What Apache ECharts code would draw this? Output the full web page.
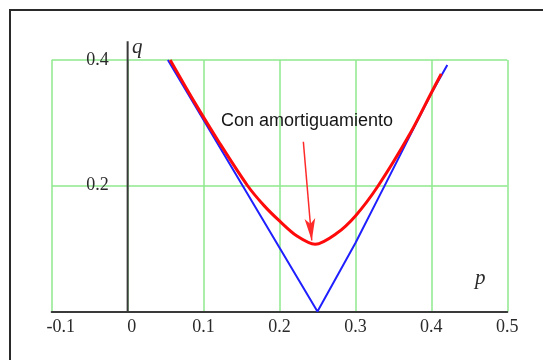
<!DOCTYPE html>
<html>
<head>
<meta charset="utf-8">
<script src="https://cdn.jsdelivr.net/npm/echarts@6/dist/echarts.min.js"></script>
<style>
  html, body { margin: 0; padding: 0; background: #ffffff; }
  #chart { width: 543px; height: 360px; }
</style>
</head>
<body>
<div id="chart"></div>
<script>
// Undamped stability boundary (blue V)
const undampedP = [0.053, 0.250, 0.300, 0.338, 0.400, 0.421];
const undampedQ = [0.400, 0.000, 0.109, 0.199, 0.347, 0.392];

// Damped boundary (red curve)
const dampedP = [0.056, 0.088, 0.120, 0.158, 0.180, 0.200, 0.223, 0.247, 0.275, 0.300, 0.330, 0.372, 0.400, 0.413];
const dampedQ = [0.400, 0.333, 0.270, 0.200, 0.168, 0.144, 0.120, 0.107, 0.124, 0.152, 0.200, 0.283, 0.348, 0.378];

// Vertical q axis drawn from q = 0 up past the grid
const qAxisSpan = [0, 0.43];

// Annotation arrow: tail and head in (p, q)
const arrowTail = [0.2314, 0.270];
const arrowHead = [0.2425, 0.113];
const noteText = 'Con amortiguamiento';

const zip = (xs, ys) => xs.map((x, i) => [x, ys[i]]);

const serif = '"Liberation Serif", "DejaVu Serif", serif';
const sans = '"Liberation Sans", Arial, sans-serif';
const gridGreen = '#8ee88e';
const ink = '#2a2a2a';

const chart = echarts.init(document.getElementById('chart'), null, { renderer: 'canvas' });

chart.setOption({
  backgroundColor: '#ffffff',
  animation: false,
  grid: { left: 51.7, right: 35.7, top: 60, bottom: 48.5, containLabel: false },
  xAxis: {
    type: 'value',
    min: -0.1,
    max: 0.5,
    interval: 0.1,
    axisLine: { show: true, onZero: true, lineStyle: { color: '#3a3a3a', width: 2 } },
    axisTick: { show: false },
    splitLine: { show: true, lineStyle: { color: gridGreen, width: 1.5 } },
    axisLabel: {
      margin: 7,
      fontFamily: serif,
      fontSize: 18,
      color: ink,
      formatter: v => {
        const s = String(Math.round(v * 10) / 10);
        if (v < 0) return '{neg|' + s + '}';
        if (v === 0) return '{zero|' + s + '}';
        return s;
      },
      rich: {
        neg: { fontFamily: serif, fontSize: 18, color: ink, padding: [0, 0, 0, 18] },
        zero: { fontFamily: serif, fontSize: 18, color: ink, padding: [0, 0, 0, 8] }
      }
    }
  },
  yAxis: {
    type: 'value',
    min: 0,
    max: 0.4,
    interval: 0.2,
    axisLine: { show: false, onZero: false },
    axisTick: { show: false },
    splitLine: { show: true, lineStyle: { color: gridGreen, width: 1.5 } },
    axisLabel: {
      margin: -57,
      showMinLabel: false,
      fontFamily: serif,
      fontSize: 18,
      color: ink,
      formatter: v => String(Math.round(v * 10) / 10)
    }
  },
  series: [
    {
      name: 'q axis',
      type: 'line',
      data: qAxisSpan.map(q => [0, q]),
      symbol: 'none',
      clip: false,
      silent: true,
      lineStyle: { color: '#3a3a3a', width: 2 },
      z: 3
    },
    {
      name: 'Sin amortiguamiento',
      type: 'line',
      data: zip(undampedP, undampedQ),
      symbol: 'none',
      clip: false,
      lineStyle: { color: '#1f1fff', width: 2 },
      z: 4
    },
    {
      name: 'Con amortiguamiento',
      type: 'line',
      data: zip(dampedP, dampedQ),
      symbol: 'none',
      smooth: 0.3,
      clip: false,
      lineStyle: { color: '#ff0a0a', width: 3 },
      z: 5,
      markLine: {
        silent: true,
        animation: false,
        symbol: ['none', 'arrow'],
        symbolSize: [8, 22],
        label: { show: false },
        lineStyle: { color: '#ff2a2a', width: 1.5, type: 'solid' },
        data: [[{ coord: arrowTail }, { coord: arrowHead }]]
      }
    }
  ],
  graphic: [
    {
      type: 'rect',
      shape: { x: 10, y: 10, width: 620, height: 420 },
      style: { fill: 'none', stroke: ink, lineWidth: 2 },
      silent: true,
      z: 10
    },
    {
      type: 'text',
      x: 132, y: 47.5,
      style: { text: 'q', font: 'italic 21px ' + serif, fill: ink, textAlign: 'left', textVerticalAlign: 'middle' },
      z: 10
    },
    {
      type: 'text',
      x: 475, y: 278,
      style: { text: 'p', font: 'italic 21px ' + serif, fill: ink, textAlign: 'left', textVerticalAlign: 'middle' },
      z: 10
    },
    {
      type: 'text',
      x: 307, y: 121,
      style: { text: noteText, font: '18px ' + sans, fill: '#151515', textAlign: 'center', textVerticalAlign: 'middle' },
      z: 10
    }
  ]
});
</script>
</body>
</html>
